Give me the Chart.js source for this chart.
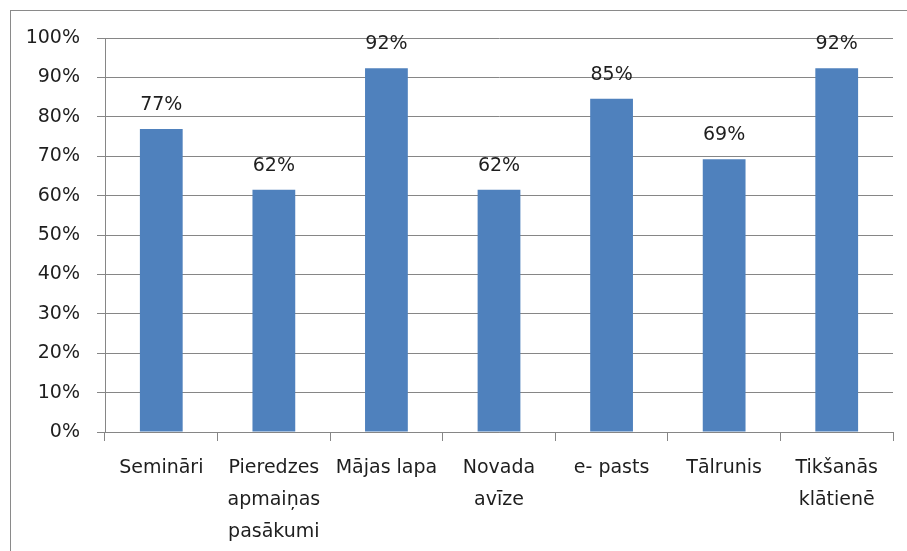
<!DOCTYPE html>
<html>
<head>
<meta charset="utf-8">
<script src="https://cdn.jsdelivr.net/npm/chart.js@4.4.1/dist/chart.umd.min.js"></script>
<style>
html,body{margin:0;padding:0;background:#fff;}
#wrap{width:907px;height:551px;position:relative;}
</style>
</head>
<body>
<div id="wrap"><canvas id="c" width="907" height="551"></canvas></div>
<script>
const categories = [
  ["Semināri"],
  ["Pieredzes", "apmaiņas", "pasākumi"],
  ["Mājas lapa"],
  ["Novada", "avīze"],
  ["e- pasts"],
  ["Tālrunis"],
  ["Tikšanās", "klātienē"]
];
const shares = [76.9, 61.5, 92.3, 61.5, 84.6, 69.2, 92.3];
const valueLabels = ["77%", "62%", "92%", "62%", "85%", "69%", "92%"];
const yTicks = [0, 10, 20, 30, 40, 50, 60, 70, 80, 90, 100];

const FONT = "'DejaVu Sans', sans-serif";
const GRID = '#868686';
const TEXT = '#1e1e1e';

const frame = {
  id: 'frame',
  beforeDraw(chart) {
    const ctx = chart.ctx;
    ctx.save();
    ctx.fillStyle = '#fff';
    ctx.fillRect(0, 0, chart.width, chart.height);
    ctx.strokeStyle = '#8a8a8a';
    ctx.lineWidth = 1;
    ctx.strokeRect(10.5, 10.5, 1200, 1200);
    ctx.restore();
  }
};

const valueText = {
  id: 'valueText',
  afterDatasetsDraw(chart) {
    const ctx = chart.ctx;
    const meta = chart.getDatasetMeta(0);
    const ys = chart.scales.y;
    ctx.save();
    ctx.font = '19px ' + FONT;
    ctx.fillStyle = TEXT;
    ctx.textAlign = 'center';
    ctx.textBaseline = 'middle';
    meta.data.forEach((bar, i) => {
      const y = ys.getPixelForValue(shares[i]);
      ctx.fillText(valueLabels[i], bar.x, y - 24);
    });
    ctx.restore();
  }
};

new Chart(document.getElementById('c'), {
  type: 'bar',
  data: {
    labels: categories,
    datasets: [{
      data: shares,
      backgroundColor: '#4F81BD',
      borderWidth: 0,
      barPercentage: 1,
      categoryPercentage: 0.38
    }]
  },
  options: {
    responsive: false,
    animation: false,
    devicePixelRatio: 1,
    layout: { padding: { top: 38, right: 14, left: 0, bottom: 0 } },
    plugins: { legend: { display: false }, tooltip: { enabled: false } },
    scales: {
      x: {
        offset: true,
        grid: { offset: true, drawOnChartArea: false, drawTicks: true, tickLength: 9, color: GRID },
        border: { display: true, color: GRID, width: 1 },
        ticks: {
          color: TEXT, font: { family: FONT, size: 19, lineHeight: 1.68 },
          padding: 11, maxRotation: 0, autoSkip: false
        },
        afterFit(s) { s.height = 551 - 432; }
      },
      y: {
        min: 0, max: 100,
        afterBuildTicks(s) { s.ticks = yTicks.map(v => ({ value: v })); },
        grid: { color: GRID, drawTicks: true, tickLength: 8 },
        border: { display: true, color: GRID, width: 1 },
        ticks: {
          color: TEXT, font: { family: FONT, size: 19 }, padding: 17,
          callback: v => v + '%'
        },
        afterFit(s) { s.width = 105; }
      }
    }
  },
  plugins: [frame, valueText]
});
</script>
</body>
</html>
